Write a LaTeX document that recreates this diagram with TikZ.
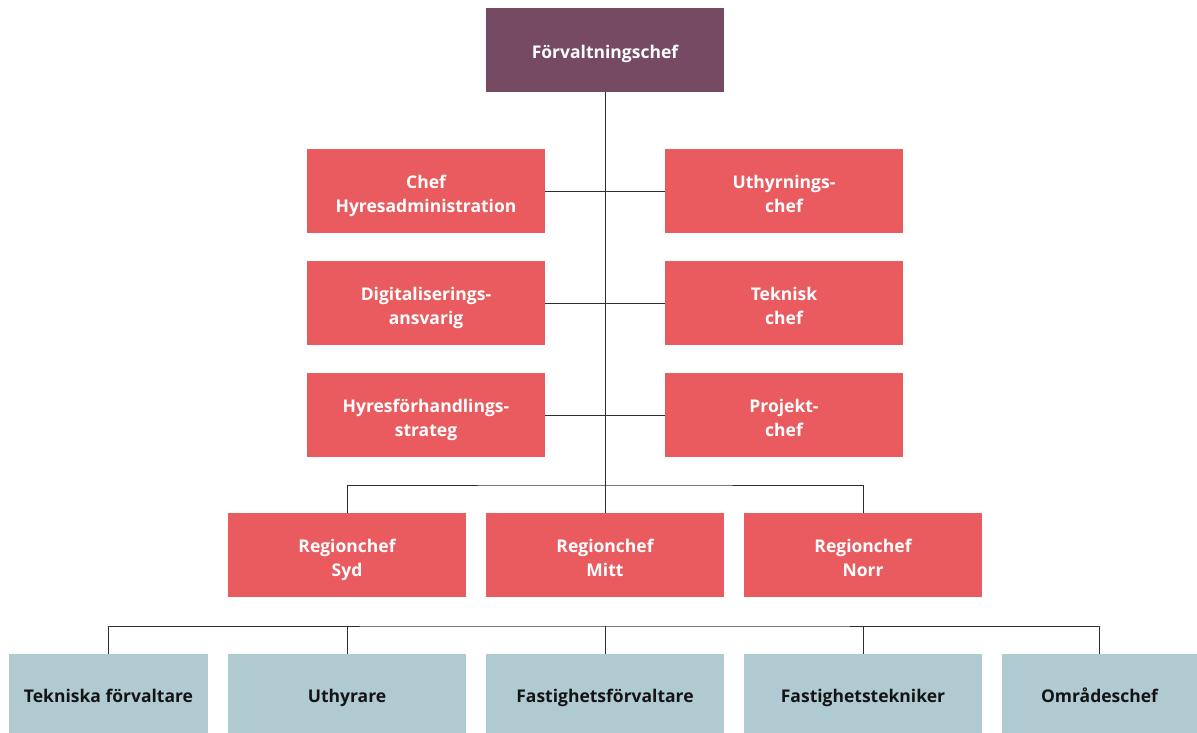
\documentclass[tikz,border=0pt]{standalone}
\usepackage{fontspec}
\setmainfont{Open Sans}
\definecolor{headcol}{HTML}{774A64}
\definecolor{mgrcol}{HTML}{EA5B5F}
\definecolor{staffcol}{HTML}{AFCAD0}
\definecolor{linecol}{HTML}{2E2E2E}
% struts for the first and last text line, so every label sits at the same height
\newcommand{\tl}{\rule{0pt}{23pt}}
\newcommand{\bl}{\rule[-5pt]{0pt}{5pt}}
\tikzset{
  box/.style={rectangle, inner sep=0pt, align=center, font=\fontsize{17.5}{24}\selectfont\bfseries},
  headbox/.style={box, fill=headcol, text=white, minimum width=238pt, minimum height=84pt},
  mgrbox/.style={box, fill=mgrcol, text=white, minimum width=238pt, minimum height=84pt},
  staffbox/.style={box, fill=staffcol, text=black!92, minimum height=79pt},
  link/.style={draw=linecol, line width=1pt}
}
\begin{document}
\begin{tikzpicture}[x=1pt, y=-1pt]
\useasboundingbox (0,0) rectangle (1197,733);

% top level
\node[headbox] (head) at (605,50) {\tl Förvaltningschef\bl};

% staff functions beside the trunk
\node[mgrbox] (hyradm) at (426,191) {\tl Chef\\Hyresadministration\bl};
\node[mgrbox] (uthchef) at (784,191) {\tl Uthyrnings-\\chef\bl};
\node[mgrbox] (digital) at (426,303) {\tl Digitaliserings-\\ansvarig\bl};
\node[mgrbox] (teknisk) at (784,303) {\tl Teknisk\\chef\bl};
\node[mgrbox] (hyrstrat) at (426,415) {\tl Hyresförhandlings-\\strateg\bl};
\node[mgrbox] (projekt) at (784,415) {\tl Projekt-\\chef\bl};

% regions
\node[mgrbox] (syd) at (347,555) {\tl Regionchef\\Syd\bl};
\node[mgrbox] (mitt) at (605,555) {\tl Regionchef\\Mitt\bl};
\node[mgrbox] (norr) at (863,555) {\tl Regionchef\\Norr\bl};

% roles within the regions
\node[staffbox, minimum width=199pt] (tekf) at (108.5,693.5) {\tl Tekniska förvaltare\bl};
\node[staffbox, minimum width=238pt] (uthyr) at (347,693.5) {\tl Uthyrare\bl};
\node[staffbox, minimum width=238pt] (fastf) at (605,693.5) {\tl Fastighetsförvaltare\bl};
\node[staffbox, minimum width=238pt] (fastt) at (863,693.5) {\tl Fastighetstekniker\bl};
\node[staffbox, minimum width=195pt] (omr) at (1099.5,693.5) {\tl Områdeschef\bl};

% junction points
\coordinate (reghub) at (605,485);
\coordinate (rolehub) at (605,626);

% trunk and side branches
\draw[link] (head.south) -- (mitt.north);
\draw[link] (hyradm.east) -- (uthchef.west);
\draw[link] (digital.east) -- (teknisk.west);
\draw[link] (hyrstrat.east) -- (projekt.west);

% region bar
\draw[link] (syd.north) |- (reghub) -| (norr.north);

% role bar
\draw[link] (tekf.north) |- (rolehub) -| (omr.north);
\draw[link] (uthyr.north) -- (uthyr.north |- rolehub);
\draw[link] (fastf.north) -- (rolehub);
\draw[link] (fastt.north) -- (fastt.north |- rolehub);
\end{tikzpicture}
\end{document}
